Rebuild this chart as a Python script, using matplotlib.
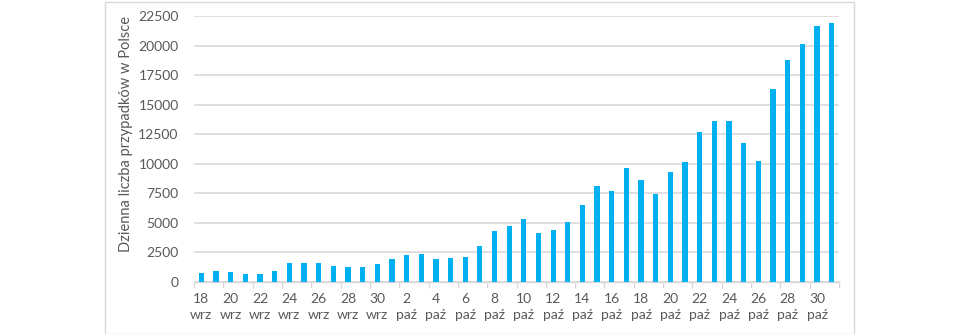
import matplotlib
matplotlib.use("Agg")
import matplotlib.pyplot as plt
from matplotlib.patches import Rectangle

days = [18, 19, 20, 21, 22, 23, 24, 25, 26, 27, 28, 29, 30] + list(range(1, 32))
months = ["wrz"] * 13 + ["paź"] * 31
cases = [740, 970, 850, 710, 680, 940, 1585, 1584, 1587, 1350, 1300, 1306, 1552,
         1967, 2292, 2367, 1934, 2006, 2120, 3003, 4280, 4739, 5300, 4178, 4394,
         5068, 6526, 8099, 7705, 9622, 8650, 7482, 9291, 10120, 12650, 13632,
         13628, 11742, 10241, 16300, 18820, 20156, 21629, 21897]
y_ticks = list(range(0, 22501, 2500))
y_label = "Dzienna liczba przypadków w Polsce"

plt.rcParams['font.family'] = ['Lato', 'DejaVu Sans']
text_color = "#595959"
grid_color = "#d9d9d9"

fig = plt.figure(figsize=(9.6, 3.34), dpi=100)
fig.patches.append(Rectangle((105 / 960, 0.5 / 334), (854 - 105) / 960, 332 / 334,
                             transform=fig.transFigure, fill=False,
                             edgecolor=grid_color, linewidth=1))
ax = fig.add_axes([194 / 960, 1 - 282 / 334, (839 - 194) / 960, (282 - 16) / 334])

x = list(range(len(cases)))
ax.bar(x, cases, width=0.36, color="#00B0F0", zorder=3)

ax.set_xlim(-0.5, len(cases) - 0.5)
ax.set_ylim(0, 22500)
ax.set_yticks(y_ticks)
ax.set_yticklabels([str(v) for v in y_ticks], color=text_color, fontsize=10)
ax.yaxis.grid(True, color=grid_color, linewidth=1.2, zorder=0)
ax.tick_params(axis='y', length=0, pad=11)

major = x[::2]
ax.set_xticks(major)
ax.set_xticklabels([f"{days[i]}\n{months[i]}" for i in major], color=text_color,
                   fontsize=10, linespacing=1.4)
ax.set_xticks([i - 0.5 for i in range(0, len(cases) + 1, 2)], minor=True)
ax.tick_params(axis='x', which='major', length=0, pad=8)
ax.tick_params(axis='x', which='minor', length=4, color=grid_color, width=1)

for s in ["top", "right", "left"]:
    ax.spines[s].set_visible(False)
ax.spines["bottom"].set_color(grid_color)
ax.spines["bottom"].set_linewidth(1)

ax.set_ylabel(y_label, color=text_color, fontsize=10.5)
ax.yaxis.set_label_coords(-0.094, 0.556)

fig.savefig("out.png", dpi=100)
